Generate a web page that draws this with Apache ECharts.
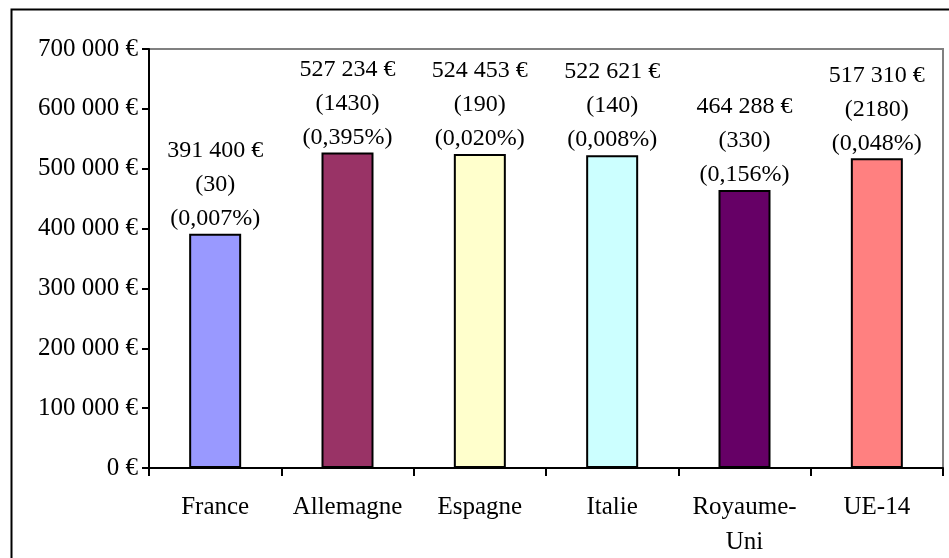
<!DOCTYPE html>
<html>
<head>
<meta charset="utf-8">
<script src="https://cdn.jsdelivr.net/npm/echarts@6/dist/echarts.min.js"></script>
<style>html,body{margin:0;padding:0;background:#fff}#c{width:949px;height:558px}</style>
</head>
<body>
<div id="c"></div>
<script>
const categories = ['France', 'Allemagne', 'Espagne', 'Italie', 'Royaume-\nUni', 'UE-14'];
const values = [391400, 527234, 524453, 522621, 464288, 517310];
const counts = ['30', '1430', '190', '140', '330', '2180'];
const shares = ['0,007%', '0,395%', '0,020%', '0,008%', '0,156%', '0,048%'];
const colors = ['#9999FF', '#993366', '#FFFFCC', '#CCFFFF', '#660066', '#FF8080'];
const yTicks = [0, 100000, 200000, 300000, 400000, 500000, 600000, 700000];

function fmt(v) {
  return String(v).replace(/\B(?=(\d{3})+(?!\d))/g, ' ') + ' €';
}

const font = '"Liberation Serif", "Times New Roman", serif';
const chart = echarts.init(document.getElementById('c'));
chart.setOption({
  animation: false,
  textStyle: { fontFamily: font },
  graphic: [{
    type: 'rect', left: 9, top: 7,
    shape: { width: 1000, height: 700 },
    style: { fill: 'none', stroke: '#000', lineWidth: 2 },
    silent: true
  }],
  grid: {
    left: 149, right: 6, top: 49, bottom: 90,
    outerBoundsMode: 'none', containLabel: false,
    show: true, borderColor: '#808080', borderWidth: 2, backgroundColor: 'transparent'
  },
  xAxis: {
    type: 'category',
    data: categories,
    axisLine: { lineStyle: { color: '#000', width: 2 } },
    axisTick: { show: true, length: 8, lineStyle: { color: '#000', width: 2 }, alignWithLabel: false },
    axisLabel: { color: '#000', fontSize: 25, fontFamily: font, margin: 22, lineHeight: 35, interval: 0 }
  },
  yAxis: {
    type: 'value',
    min: yTicks[0], max: yTicks[yTicks.length - 1], interval: 100000,
    axisLine: { show: true, lineStyle: { color: '#000', width: 2 } },
    axisTick: { show: true, length: 7, lineStyle: { color: '#000', width: 2 } },
    splitLine: { show: false },
    axisLabel: { color: '#000', fontSize: 25, fontFamily: font, margin: 11, formatter: v => fmt(v) }
  },
  series: [{
    type: 'bar',
    barWidth: 52,
    data: values.map((v, i) => ({
      value: v,
      itemStyle: { color: colors[i], borderColor: '#000', borderWidth: 2 }
    })),
    label: {
      show: true, position: 'top', distance: -2,
      color: '#000', fontSize: 24, fontFamily: font, lineHeight: 34, align: 'center',
      formatter: p => fmt(p.value) + '\n(' + counts[p.dataIndex] + ')\n(' + shares[p.dataIndex] + ')'
    }
  }]
});
</script>
</body>
</html>
